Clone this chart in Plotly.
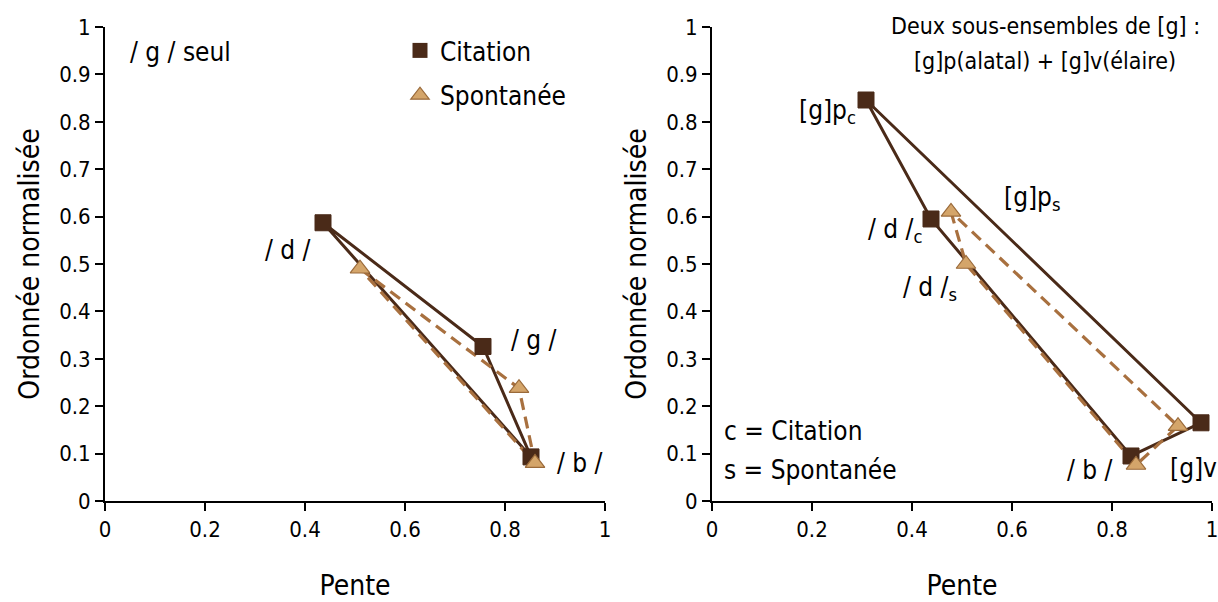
import plotly.graph_objects as go

# Left panel: /g/ alone
left_labels = ["/ d /", "/ g /", "/ b /"]
left_cit_x = [0.436, 0.756, 0.852]
left_cit_y = [0.587, 0.326, 0.093]
left_spo_x = [0.510, 0.828, 0.860]
left_spo_y = [0.490, 0.238, 0.080]

# Right panel: two subsets of [g] (palatal / velar)
right_labels = ["[g]p", "/ d /", "/ b /", "[g]v"]
right_cit_x = [0.308, 0.438, 0.838, 0.978]
right_cit_y = [0.846, 0.595, 0.095, 0.165]
right_spo_x = [0.478, 0.508, 0.848, 0.932]
right_spo_y = [0.610, 0.500, 0.076, 0.158]

x_ticks = [0, 0.2, 0.4, 0.6, 0.8, 1]
y_ticks = [0, 0.1, 0.2, 0.3, 0.4, 0.5, 0.6, 0.7, 0.8, 0.9, 1]

FONT = "Liberation Sans Narrow, DejaVu Sans Condensed, Lato, sans-serif"
DARK = "#4a2a18"
TAN_FILL = "#d4a56a"
TAN_LINE = "#9a6a3a"
DASH = "#a8703f"


def closed(v):
    return list(v) + [v[0]]


fig = go.Figure()

for xs, ys, xa, ya in [
    (left_cit_x, left_cit_y, "x", "y"),
    (right_cit_x, right_cit_y, "x2", "y2"),
]:
    fig.add_trace(go.Scatter(
        x=closed(xs), y=closed(ys), xaxis=xa, yaxis=ya, mode="lines",
        line=dict(color=DARK, width=3), showlegend=False, hoverinfo="skip"))

for xs, ys, xa, ya in [
    (left_spo_x, left_spo_y, "x", "y"),
    (right_spo_x, right_spo_y, "x2", "y2"),
]:
    fig.add_trace(go.Scatter(
        x=closed(xs), y=closed(ys), xaxis=xa, yaxis=ya, mode="lines",
        line=dict(color=DASH, width=3.2, dash="12px,7px"), showlegend=False,
        hoverinfo="skip"))

for xs, ys, xa, ya in [
    (left_cit_x, left_cit_y, "x", "y"),
    (right_cit_x, right_cit_y, "x2", "y2"),
]:
    fig.add_trace(go.Scatter(
        x=xs, y=ys, xaxis=xa, yaxis=ya, mode="markers",
        marker=dict(symbol="square", size=16, color=DARK,
                    line=dict(color=DARK, width=1)),
        showlegend=False))

for xs, ys, xa, ya in [
    (left_spo_x, left_spo_y, "x", "y"),
    (right_spo_x, right_spo_y, "x2", "y2"),
]:
    fig.add_trace(go.Scatter(
        x=xs, y=ys, xaxis=xa, yaxis=ya, mode="markers",
        marker=dict(symbol="triangle-up", size=17, color=TAN_FILL,
                    line=dict(color=TAN_LINE, width=1.2)),
        showlegend=False))

# Legend entries (markers only)
fig.add_trace(go.Scatter(
    x=[None], y=[None], mode="markers", name="Citation", legendgroup="c",
    marker=dict(symbol="square", size=15, color=DARK)))
fig.add_trace(go.Scatter(
    x=[None], y=[None], mode="markers", name="Spontanée", legendgroup="s",
    marker=dict(symbol="triangle-up", size=16, color=TAN_FILL,
                line=dict(color=TAN_LINE, width=1.2))))

axis_common = dict(
    range=[0, 1], showline=True, linecolor="black", linewidth=2,
    ticks="outside", ticklen=8, tickwidth=2, tickcolor="black",
    showgrid=False, zeroline=False, automargin=False,
    ticklabeloverflow="allow",
    tickfont=dict(family=FONT, size=22, color="black"),
    title_font=dict(family=FONT, size=28, color="black"),
)

y_bottom = 1 - 501 / 602
y_top = 1 - 27 / 602

fig.update_layout(
    width=1218, height=602,
    margin=dict(l=0, r=0, t=0, b=0),
    paper_bgcolor="white", plot_bgcolor="white",
    font=dict(family=FONT, color="black"),
    xaxis=dict(axis_common, domain=[105 / 1218, 605 / 1218], anchor="y",
               tickvals=x_ticks, ticktext=[f"{v:g}" for v in x_ticks],
               title=dict(text="Pente", standoff=40)),
    yaxis=dict(axis_common, domain=[y_bottom, y_top], anchor="x",
               tickvals=y_ticks, ticktext=[f"{v:g}" for v in y_ticks],
               title=dict(text="Ordonnée normalisée", standoff=11)),
    xaxis2=dict(axis_common, domain=[712 / 1218, 1212 / 1218], anchor="y2",
                tickvals=x_ticks, ticktext=[f"{v:g}" for v in x_ticks],
                title=dict(text="Pente", standoff=40)),
    yaxis2=dict(axis_common, domain=[y_bottom, y_top], anchor="x2",
                tickvals=y_ticks, ticktext=[f"{v:g}" for v in y_ticks],
                title=dict(text="Ordonnée normalisée", standoff=11)),
    legend=dict(x=400 / 1218, y=1 - 27 / 602, xanchor="left", yanchor="top",
                font=dict(family=FONT, size=26, color="black"),
                traceorder="grouped", tracegroupgap=8,
                bgcolor="rgba(0,0,0,0)", itemwidth=30),
)

ann = []


def label(text, x, y, xr, yr, align="center", size=26, xanchor="center"):
    ann.append(dict(text=text, x=x, y=y, xref=xr, yref=yr, showarrow=False,
                    xanchor=xanchor, yanchor="middle", align=align,
                    font=dict(family=FONT, size=size, color="black")))


# Left panel labels
label("/ g / seul", 0.046, 0.947, "x", "y", xanchor="left")
label(left_labels[0], 0.366, 0.530, "x", "y")
label(left_labels[1], 0.858, 0.340, "x", "y")
label(left_labels[2], 0.950, 0.080, "x", "y")

# Right panel labels
label(right_labels[0] + "<sub>c</sub>", 0.232, 0.822, "x2", "y2")
label(right_labels[1] + "<sub>c</sub>", 0.366, 0.570, "x2", "y2")
label(right_labels[0] + "<sub>s</sub>", 0.640, 0.639, "x2", "y2")
label(right_labels[1] + "<sub>s</sub>", 0.436, 0.449, "x2", "y2")
label(right_labels[2], 0.756, 0.065, "x2", "y2")
label(right_labels[3], 0.962, 0.070, "x2", "y2")
label("c = Citation", 0.02, 0.148, "x2", "y2", xanchor="left")
label("s = Spontanée", 0.02, 0.065, "x2", "y2", xanchor="left")

# Panel heading (paper coordinates so it may sit above the top of the axis)
label("Deux sous-ensembles de [g] :", 1045 / 1218, 1 - 26 / 602,
      "paper", "paper", size=23)
label("[g]p(alatal) + [g]v(élaire)", 1045 / 1218, 1 - 61 / 602,
      "paper", "paper", size=23)

fig.update_layout(annotations=ann)

fig.write_html("out.html")
